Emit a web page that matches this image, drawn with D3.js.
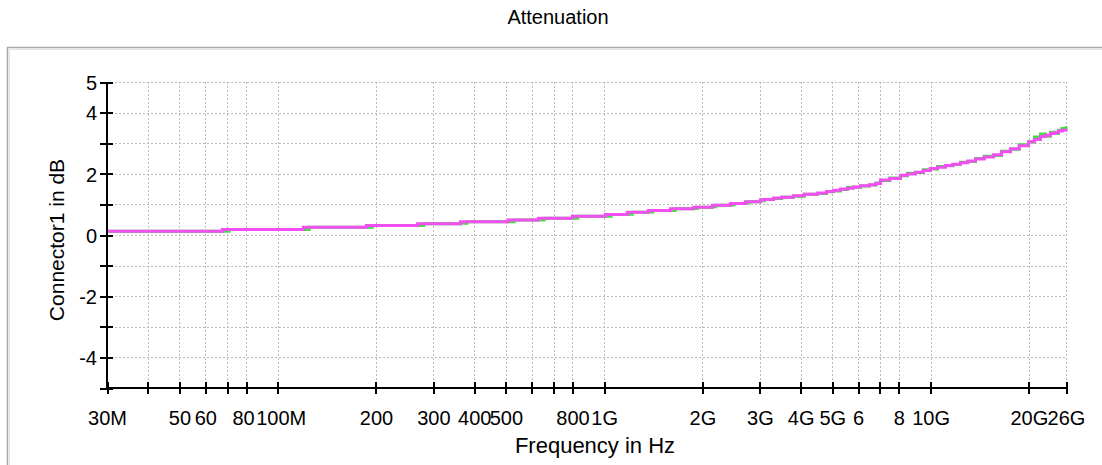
<!DOCTYPE html>
<html lang="en">
<head>
    <meta charset="UTF-8">
    <title>Attenuation</title>
    <script src="https://cdn.jsdelivr.net/npm/d3@7/dist/d3.min.js"></script>
    <style>
        body { margin: 0; background: #fff; }
        svg text { font-family: "Liberation Sans", Arial, sans-serif; fill: #000; }
        .axis path, .axis line { stroke: #000; stroke-width: 2; shape-rendering: crispEdges; }
        .axis text { font-size: 20px; }
        .grid line { stroke: #bababa; stroke-width: 1; stroke-dasharray: 2,2; shape-rendering: crispEdges; }
    </style>
</head>
<body>
<script>
// measured frequencies (Hz)
var freqs = [30e6, 67.7e6, 71e6, 119.8e6, 125e6, 187e6, 195e6, 268e6, 280e6, 363e6, 380e6,
    509e6, 530e6, 629e6, 655e6, 799e6, 830e6, 1.009e9, 1.05e9, 1.178e9, 1.22e9, 1.366e9, 1.41e9,
    1.596e9, 1.65e9, 1.877e9, 1.93e9, 2.146e9, 2.2e9, 2.437e9, 2.5e9, 2.709e9, 2.78e9, 3.011e9,
    3.1e9, 3.301e9, 3.5e9, 3.8e9, 4.1e9, 4.502e9, 4.8e9, 5.04e9, 5.3e9, 5.564e9, 5.8e9, 6.098e9,
    6.5e9, 6.8e9, 7.022e9, 7.5e9, 8.085e9, 8.5e9, 8.987e9, 9.5e9, 9.99e9, 10.5e9, 11.11e9, 11.7e9,
    12.35e9, 13e9, 13.73e9, 14.6e9, 15.58e9, 16.5e9, 17.57e9, 18.7e9, 19.95e9, 20.8e9, 21.71e9,
    22.5e9, 23.3e9, 24e9, 24.65e9, 25.3e9, 26e9];
// green trace (dB)
var attGreen = [0.12, 0.12, 0.18, 0.18, 0.25, 0.25, 0.31, 0.31, 0.37, 0.38, 0.43,
    0.43, 0.49, 0.49, 0.55, 0.55, 0.61, 0.61, 0.67, 0.68, 0.74, 0.75, 0.80,
    0.80, 0.86, 0.87, 0.91, 0.92, 0.97, 0.98, 1.03, 1.05, 1.09, 1.12,
    1.16, 1.19, 1.23, 1.27, 1.33, 1.36, 1.41, 1.44, 1.49, 1.55, 1.56, 1.60,
    1.63, 1.70, 1.78, 1.86, 1.94, 2.02, 2.04, 2.13, 2.16, 2.24, 2.26, 2.30,
    2.38, 2.40, 2.50, 2.57, 2.60, 2.74, 2.80, 2.95, 3.04, 3.20, 3.30,
    3.23, 3.36, 3.32, 3.42, 3.48, 3.55];
// magenta trace (dB)
var attMagenta = [0.12, 0.18, 0.18, 0.25, 0.25, 0.31, 0.31, 0.37, 0.37, 0.43, 0.43,
    0.49, 0.49, 0.55, 0.55, 0.61, 0.61, 0.67, 0.67, 0.74, 0.74, 0.80, 0.80,
    0.86, 0.86, 0.91, 0.91, 0.97, 0.97, 1.03, 1.03, 1.09, 1.09, 1.15,
    1.16, 1.21, 1.23, 1.28, 1.33, 1.37, 1.42, 1.46, 1.50, 1.53, 1.57, 1.61,
    1.64, 1.68, 1.80, 1.85, 1.95, 1.99, 2.05, 2.11, 2.17, 2.21, 2.27, 2.31,
    2.36, 2.42, 2.48, 2.55, 2.62, 2.72, 2.82, 2.92, 3.05, 3.12, 3.22,
    3.26, 3.32, 3.35, 3.40, 3.43, 3.46];

var xTickValues = [30e6, 40e6, 50e6, 60e6, 70e6, 80e6, 100e6, 200e6, 300e6, 400e6, 500e6, 600e6,
    700e6, 800e6, 1e9, 2e9, 3e9, 4e9, 5e9, 6e9, 7e9, 8e9, 10e9, 20e9, 26e9];
var xTickLabels = ["30M", "", "50", "60", "", "80", "100M", "200", "300", "400", "500", "",
    "", "800", "1G", "2G", "3G", "4G", "5G", "6", "", "8", "10G", "20G", "26G"];
var yTickValues = [5, 4, 3, 2, 1, 0, -1, -2, -3, -4, -5];
var yTickLabels = ["5", "4", "", "2", "", "0", "", "-2", "", "-4", ""];

var width = 1102, height = 465;
var svg = d3.select("body")
    .append("svg")
    .attr("width", width)
    .attr("height", height);

var xScale = d3.scaleLog()
    .domain([30e6, 26e9])
    .range([107, 1066]);
var yScale = d3.scaleLinear()
    .domain([-5, 5])
    .range([388, 82]);

// outer frame
svg.append("path")
    .attr("d", "M7.5," + height + "V47.5H" + width)
    .attr("fill", "none")
    .attr("stroke", "#a9a9a9")
    .attr("stroke-width", 1.5);
svg.append("path")
    .attr("d", "M9.5," + height + "V49.5H" + width)
    .attr("fill", "none")
    .attr("stroke", "#e4e4e4")
    .attr("stroke-width", 1);

// grid
var grid = svg.append("g").attr("class", "grid");
grid.selectAll(".vg")
    .data(xTickValues)
    .enter()
    .append("line")
    .attr("class", "vg")
    .attr("x1", function (d) { return Math.round(xScale(d)) + 0.5; })
    .attr("x2", function (d) { return Math.round(xScale(d)) + 0.5; })
    .attr("y1", yScale(5))
    .attr("y2", yScale(-5));
grid.selectAll(".hg")
    .data(yTickValues)
    .enter()
    .append("line")
    .attr("class", "hg")
    .attr("x1", xScale(30e6))
    .attr("x2", xScale(26e9))
    .attr("y1", function (d) { return Math.round(yScale(d)) + 0.5; })
    .attr("y2", function (d) { return Math.round(yScale(d)) + 0.5; });

// traces
var rows = freqs.map(function (f, i) {
    return {f: f, g: attGreen[i], m: attMagenta[i]};
});
var lineG = d3.line()
    .x(function (d) { return xScale(d.f); })
    .y(function (d) { return yScale(d.g); })
    .curve(d3.curveStepAfter);
var lineM = d3.line()
    .x(function (d) { return xScale(d.f); })
    .y(function (d) { return yScale(d.m); })
    .curve(d3.curveStepAfter);
svg.append("path")
    .datum(rows)
    .attr("d", lineG)
    .attr("fill", "none")
    .attr("stroke", "#3fe03f")
    .attr("stroke-width", 3);
svg.append("path")
    .datum(rows)
    .attr("d", lineM)
    .attr("fill", "none")
    .attr("stroke", "#f24ef2")
    .attr("stroke-width", 3);

// axes
var xAxis = d3.axisBottom(xScale)
    .tickValues(xTickValues)
    .tickSize(6)
    .tickFormat(function (d, i) { return xTickLabels[i]; });
var gx = svg.append("g")
    .attr("class", "axis")
    .attr("transform", "translate(0," + yScale(-5) + ")")
    .call(xAxis);
gx.select(".domain").attr("d", "M" + xScale(30e6) + ",0H" + xScale(26e9));
gx.selectAll(".tick line").attr("y1", -6).attr("y2", 6);
gx.selectAll(".tick text").attr("y", 37).attr("dy", 0)
    .attr("dx", function (d) { return d === 80e6 ? -3 : (d === 100e6 ? 3 : 0); });

var yAxis = d3.axisLeft(yScale)
    .tickValues(yTickValues)
    .tickSize(6)
    .tickFormat(function (d, i) { return yTickLabels[i]; });
var gy = svg.append("g")
    .attr("class", "axis")
    .attr("transform", "translate(" + xScale(30e6) + ",0)")
    .call(yAxis);
gy.select(".domain").attr("d", "M0," + yScale(5) + "V" + yScale(-5));
gy.selectAll(".tick line").attr("x1", -7).attr("x2", 6);
gy.selectAll(".tick text").attr("x", -10).attr("dy", "0.36em");

// titles
svg.append("text")
    .attr("x", 558)
    .attr("y", 24)
    .attr("text-anchor", "middle")
    .style("font-size", "20px")
    .text("Attenuation");
svg.append("text")
    .attr("x", 595)
    .attr("y", 453)
    .attr("text-anchor", "middle")
    .style("font-size", "22px")
    .text("Frequency in Hz");
svg.append("text")
    .attr("transform", "translate(64,240) rotate(-90)")
    .attr("text-anchor", "middle")
    .style("font-size", "21px")
    .text("Connector1 in dB");
</script>
</body>
</html>
